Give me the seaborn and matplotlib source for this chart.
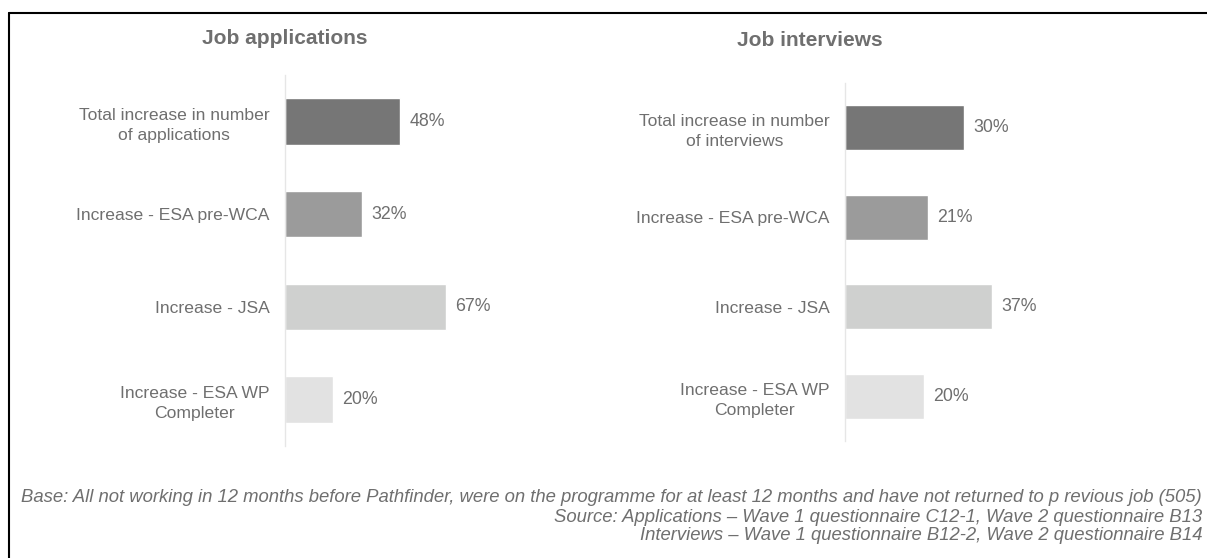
import matplotlib
matplotlib.use('Agg')
import matplotlib.pyplot as plt
import seaborn as sns
from matplotlib.lines import Line2D

# ================== DATA ==================
app_labels = ['Total increase in number\nof applications', 'Increase - ESA pre-WCA',
              'Increase - JSA', 'Increase - ESA WP\nCompleter']
app_values = [48, 32, 67, 20]

int_labels = ['Total increase in number\nof interviews', 'Increase - ESA pre-WCA',
              'Increase - JSA', 'Increase - ESA WP\nCompleter']
int_values = [30, 21, 37, 20]

bar_colors = ['#767676', '#9b9b9b', '#cfd0cf', '#e2e2e2']
titles = ['Job applications', 'Job interviews']

footnotes = [
    'Base: All not working in 12 months before Pathfinder, were on the programme for at least 12 months and have not returned to p revious job (505)',
    'Source: Applications \u2013 Wave 1 questionnaire C12-1, Wave 2 questionnaire B13',
    'Interviews \u2013 Wave 1 questionnaire B12-2, Wave 2 questionnaire B14',
]

# ================== STYLE ==================
sns.set_style('white')
plt.rcParams['font.family'] = ['Liberation Sans', 'DejaVu Sans']
TXT = '#6f6f6f'

W, H = 1207, 558
fig = plt.figure(figsize=(W / 100, H / 100), dpi=100)

# axes rectangles in pixels: left, top, width, bottom, x max
panels = [
    (285, 75, 276, 446, 115),
    (845, 83, 276, 441, 69.5),
]
data = [(app_labels, app_values), (int_labels, int_values)]

for (x0, top, w, bot, xmax), (labels, values) in zip(panels, data):
    ax = fig.add_axes([x0 / W, (H - bot) / H, w / W, (bot - top) / H])
    sns.barplot(x=values, y=labels, hue=labels, palette=bar_colors, legend=False,
                width=0.5, saturation=1, ax=ax)
    ax.set_xlim(0, xmax)
    ax.set_ylim(3.5, -0.5)
    ax.set_xticks([])
    ax.set_xlabel('')
    ax.set_ylabel('')
    for s in ['top', 'right', 'bottom']:
        ax.spines[s].set_visible(False)
    ax.spines['left'].set_color('#e6e6e6')
    ax.spines['left'].set_linewidth(1)
    ax.tick_params(axis='y', length=0, pad=11, labelsize=12.6, labelcolor=TXT)
    for t in ax.get_yticklabels():
        t.set_multialignment('center')
        t.set_linespacing(1.4)
    for i, v in enumerate(values):
        ax.text(v + xmax * 0.033, i, f'{v}%', va='center', ha='left',
                fontsize=12.8, color=TXT)

# titles
fig.text(285 / W, 1 - 38 / H, titles[0], ha='center', va='center',
         fontsize=15, fontweight='bold', color=TXT)
fig.text(810 / W, 1 - 40 / H, titles[1], ha='center', va='center',
         fontsize=15, fontweight='bold', color=TXT)

# footnotes
for y, line in zip([497, 517, 535], footnotes):
    fig.text(1202 / W, 1 - y / H, line, ha='right', va='center', fontsize=13.3,
             style='italic', color=TXT)

# frame lines (top and left only)
fig.add_artist(Line2D([9 / W, 1], [1 - 13 / H, 1 - 13 / H], color='black', lw=1.5,
                      transform=fig.transFigure))
fig.add_artist(Line2D([9 / W, 9 / W], [0, 1 - 13 / H], color='black', lw=1.5,
                      transform=fig.transFigure))

fig.savefig('out.png', dpi=100)
plt.close(fig)
